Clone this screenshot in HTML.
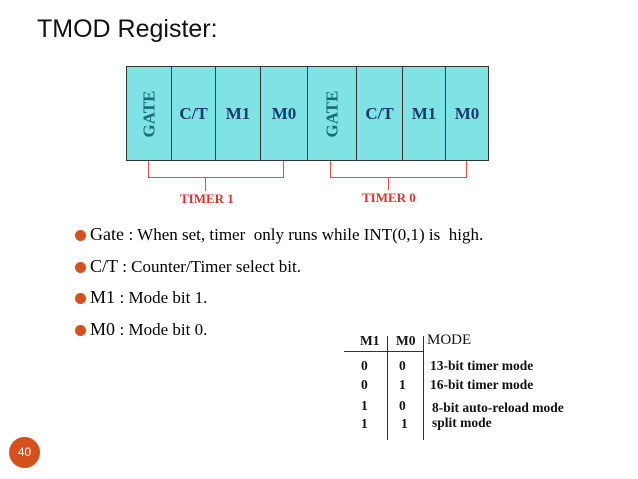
<!DOCTYPE html>
<html><head><style>
body{margin:0;width:638px;height:479px;background:#fff;position:relative;overflow:hidden;font-family:"Liberation Serif",serif}
.a{position:absolute;white-space:nowrap}
.cell{position:absolute;top:66px;height:95px;background:#7fe3e6;border:1px solid #333;box-sizing:border-box;display:flex;align-items:center;justify-content:center;font-weight:bold;font-size:17px;color:#1a3a6a}
.v{transform:rotate(-90deg);display:inline-block}
.r{position:absolute;background:#e05050}
.b{position:absolute;left:75px;width:11px;height:11px;border-radius:50%;background:#d4501c}
.t{font-family:"Liberation Serif",serif;font-weight:bold;font-size:13.5px;color:#111}
</style></head><body>
<div class="a" style="left:37px;top:15px;font-family:'Liberation Sans',sans-serif;font-size:25px;color:#111">TMOD Register:</div>
<div class="cell" style="left:126px;width:46px"><span class="v" style="color:#1a6a7a">GATE</span></div>
<div class="cell" style="left:171px;width:45px">C/T</div>
<div class="cell" style="left:215px;width:46px">M1</div>
<div class="cell" style="left:260px;width:48px">M0</div>
<div class="cell" style="left:307px;width:50px"><span class="v" style="color:#1a6a7a">GATE</span></div>
<div class="cell" style="left:356px;width:47px">C/T</div>
<div class="cell" style="left:402px;width:44px">M1</div>
<div class="cell" style="left:445px;width:44px">M0</div>
<div class="r" style="left:148px;top:161px;width:1px;height:17px"></div>
<div class="r" style="left:283px;top:161px;width:1px;height:17px"></div>
<div class="r" style="left:148px;top:177px;width:136px;height:1px"></div>
<div class="r" style="left:205px;top:177px;width:1px;height:14px"></div>
<div class="r" style="left:330px;top:161px;width:1px;height:17px"></div>
<div class="r" style="left:466px;top:161px;width:1px;height:17px"></div>
<div class="r" style="left:330px;top:177px;width:137px;height:1px"></div>
<div class="r" style="left:388px;top:177px;width:1px;height:13px"></div>
<div class="a" style="left:180px;top:191px;font-weight:bold;font-size:13px;color:#e03030">TIMER 1</div>
<div class="a" style="left:362px;top:190px;font-weight:bold;font-size:13px;color:#e03030">TIMER 0</div>
<div class="b" style="top:230px"></div><div class="a" style="left:90px;top:224px;font-size:18px">Gate <span style="font-size:17px">: When set, timer &nbsp;only runs while INT(0,1) is &nbsp;high.</span></div>
<div class="b" style="top:262px"></div><div class="a" style="left:90px;top:256px;font-size:18px">C/T <span style="font-size:17px">: Counter/Timer select bit.</span></div>
<div class="b" style="top:293px"></div><div class="a" style="left:90px;top:287px;font-size:18px">M1 <span style="font-size:17px">: Mode bit 1.</span></div>
<div class="b" style="top:325px"></div><div class="a" style="left:90px;top:319px;font-size:18px">M0 <span style="font-size:17px">: Mode bit 0.</span></div>
<div class="a" style="left:344px;top:351px;width:80px;height:1px;background:#333"></div>
<div class="a" style="left:387px;top:336px;width:1px;height:104px;background:#333"></div>
<div class="a" style="left:423px;top:336px;width:1px;height:104px;background:#333"></div>
<div class="a t" style="left:360px;top:333px">M1</div>
<div class="a t" style="left:396px;top:333px">M0</div>
<div class="a t" style="left:427px;top:332px;font-weight:normal;font-size:15px">MODE</div>
<div class="a t" style="left:361px;top:358px">0</div><div class="a t" style="left:399px;top:358px">0</div><div class="a t" style="left:430px;top:358px">13-bit timer mode</div>
<div class="a t" style="left:361px;top:377px">0</div><div class="a t" style="left:399px;top:377px">1</div><div class="a t" style="left:430px;top:377px">16-bit timer mode</div>
<div class="a t" style="left:361px;top:398px">1</div><div class="a t" style="left:399px;top:398px">0</div><div class="a t" style="left:432px;top:400px">8-bit auto-reload mode</div>
<div class="a t" style="left:361px;top:416px">1</div><div class="a t" style="left:401px;top:416px">1</div><div class="a t" style="left:432px;top:415px">split mode</div>
<div class="a" style="left:9px;top:437px;width:31px;height:31px;border-radius:50%;background:#d4501c;color:#fff;font-family:'Liberation Sans',sans-serif;font-size:12px;text-align:center;line-height:31px">40</div>
</body></html>
